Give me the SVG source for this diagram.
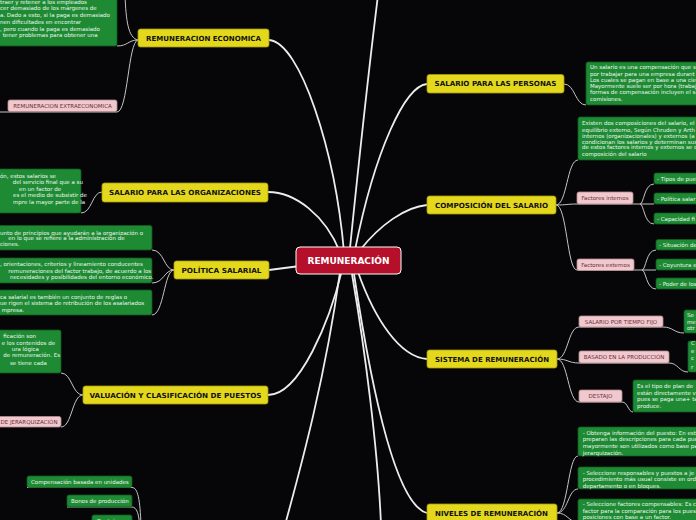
<svg xmlns="http://www.w3.org/2000/svg" width="696" height="520" viewBox="0 0 696 520">
<style>
.y{fill:#e4d81c;stroke:#a59b0e;stroke-width:0.8}
.yt{font-family:'DejaVu Sans',sans-serif;font-weight:bold;font-size:7px;fill:#111;text-anchor:middle}
.g{fill:#1e8a34;stroke:#0f5c1e;stroke-width:0.8}
.gt{font-family:'DejaVu Sans',sans-serif;font-size:5.5px;fill:#eef7ee}
.p{fill:#efc9cd;stroke:#b88c92;stroke-width:0.8}
.pt{font-family:'DejaVu Sans',sans-serif;font-size:5.5px;fill:#6d2a3a;text-anchor:middle}
.c{fill:none;stroke:#ececec;stroke-width:1.8}
.s{fill:none;stroke:#c4c4c4;stroke-width:1}
</style>
<rect x="0" y="0" width="696" height="520" fill="#060608"/>
<g id="connectors">
<path class="c" d="M269,40 C300,42 335,150 344,252"/>
<path class="c" d="M268,192 C295,192 325,215 340,252"/>
<path class="c" d="M269,270 L300,266"/>
<path class="c" d="M268,395 C300,395 330,320 342,270"/>
<path class="c" d="M340,272 C325,380 300,470 285,525"/>
<path class="c" d="M350,248 C360,150 370,60 378,-5"/>
<path class="c" d="M427,84 C405,86 375,150 355,250"/>
<path class="c" d="M427,205 C405,207 380,225 360,250"/>
<path class="c" d="M427,359 C400,357 375,320 358,272"/>
<path class="c" d="M427,513 C395,505 370,380 354,274"/>
<path class="c" d="M352,274 C365,350 378,450 381,525"/>
<path class="s" d="M138,40 C128,40 128,46 117,46"/>
<path class="s" d="M138,40 C128,38 126,20 125,-5"/>
<path class="s" d="M138,40 C128,42 128,112 117,112 L-5,112"/>
<path class="s" d="M102,192 C92,192 92,213 81,213"/>
<path class="s" d="M174,270 C164,270 164,250 152,250"/>
<path class="s" d="M174,270 C164,270 164,283 152,283"/>
<path class="s" d="M174,270 C164,270 164,315 152,315"/>
<path class="s" d="M83,395 C72,395 72,373 61,373"/>
<path class="s" d="M83,395 C72,395 72,427 61,427"/>
<path class="s" d="M27,487.5 L132,487.5 C138,487.5 140,500 141,525"/>
<path class="s" d="M67,507 L132,507 C137,507 139,515 139.5,525"/>
<path class="s" d="M564,84 C575,84 575,105 586,105"/>
<path class="s" d="M556,205 C567,205 567,160 578,160"/>
<path class="s" d="M556,205 C567,205 567,204 577,204 L654,204"/>
<path class="s" d="M640,204 C644,204 644,184 654,184"/>
<path class="s" d="M640,204 C644,204 644,224 654,224"/>
<path class="s" d="M556,205 C567,205 567,270 577,270 L656,270"/>
<path class="s" d="M642,270 C646,270 646,250 656,250"/>
<path class="s" d="M642,270 C646,270 646,289 656,289"/>
<path class="s" d="M557,359 C568,359 568,327 579,327 L663,327 C673,327 674,333 684,333"/>
<path class="s" d="M557,359 C568,359 568,363 579,363 L669,363 C678,363 679,372 688,372"/>
<path class="s" d="M557,359 C568,359 568,402 579,402 L622,402 C628,402 628,412 633,412"/>
<path class="s" d="M557,513 C568,513 568,456 578,456"/>
<path class="s" d="M557,513 C568,513 568,489 578,489"/>
<path class="s" d="M557,513 C568,513 568,522 578,522"/>
</g>
<g id="center"><rect x="296" y="247" width="105" height="27" rx="4" fill="#b50f2b" stroke="#ffffff" stroke-width="1"/><text x="348.5" y="264" font-family="'DejaVu Sans',sans-serif" font-weight="bold" font-size="9.5" fill="#fff" text-anchor="middle" textLength="82" lengthAdjust="spacingAndGlyphs">REMUNERACIÓN</text></g>
<g id="n-econ"><rect class="y" x="138" y="29" width="131" height="18" rx="2.5"/><text class="yt" x="203.5" y="40.5" textLength="115" lengthAdjust="spacingAndGlyphs">REMUNERACION ECONOMICA</text></g>
<g id="n-econ-txt"><rect class="g" x="-10" y="-5" width="127" height="51" rx="2"/>
<text class="gt"><tspan x="0" y="3.5">traer y retener a los empleados</tspan><tspan x="0" y="10">cer demasiado de los márgenes de</tspan><tspan x="0" y="17">a. Dado a esto, si la paga es demasiado</tspan><tspan x="0" y="24">nen dificultades en encontrar</tspan><tspan x="0" y="30.5">, pero cuando la paga es demasiado</tspan><tspan x="2.7" y="36.5">tener problemas para obtener una</tspan></text></g>
<g id="n-extra"><rect class="p" x="8" y="100" width="109" height="11.5" rx="2"/><text class="pt" x="62.5" y="108">REMUNERACION EXTRAECONOMICA</text></g>
<g id="n-org"><rect class="y" x="102" y="183" width="166" height="19" rx="2.5"/><text class="yt" x="185" y="194.5" textLength="152" lengthAdjust="spacingAndGlyphs">SALARIO PARA LAS ORGANIZACIONES</text></g>
<g id="n-org-txt"><rect class="g" x="-10" y="169" width="91" height="44" rx="2"/>
<text class="gt"><tspan x="0" y="177.5">ón, estos salarios se</tspan><tspan x="12.7" y="184.3">del servicio final que a su</tspan><tspan x="19" y="190.8">en un factor de</tspan><tspan x="13" y="197">es el medio de subsistir de</tspan><tspan x="13" y="203.8">mpre la mayor parte de la</tspan></text></g>
<g id="n-pol"><rect class="y" x="174" y="261" width="95" height="18" rx="2.5"/><text class="yt" x="221.5" y="272.5" textLength="80" lengthAdjust="spacingAndGlyphs">POLÍTICA SALARIAL</text></g>
<g id="n-pol-a"><rect class="g" x="-10" y="225.5" width="162" height="24.5" rx="2"/>
<text class="gt"><tspan x="0" y="234.5">unto de principios que ayudarán a la organización o</tspan><tspan x="8.3" y="240.3">en lo que se refiere a la administración de</tspan><tspan x="0" y="246.3">ciones.</tspan></text></g>
<g id="n-pol-b"><rect class="g" x="-10" y="258" width="162" height="25" rx="2"/>
<text class="gt"><tspan x="0" y="266">, orientaciones, criterios y lineamiento conducentes</tspan><tspan x="8.3" y="273">remuneraciones del factor trabajo, de acuerdo a los</tspan><tspan x="10" y="279">necesidades y posibilidades del entorno económico.</tspan></text></g>
<g id="n-pol-c"><rect class="g" x="-10" y="290" width="162" height="25" rx="2"/>
<text class="gt"><tspan x="0" y="298.5">ca salarial es también un conjunto de reglas o</tspan><tspan x="0" y="305">ue rigen el sistema de retribución de los asalariados</tspan><tspan x="1.7" y="311.5">mpresa.</tspan></text></g>
<g id="n-val"><rect class="y" x="83" y="386" width="185" height="18" rx="2.5"/><text class="yt" x="175.5" y="397.5" textLength="172" lengthAdjust="spacingAndGlyphs">VALUACIÓN Y CLASIFICACIÓN DE PUESTOS</text></g>
<g id="n-val-txt"><rect class="g" x="-10" y="330" width="71" height="43" rx="2"/>
<text class="gt"><tspan x="3.3" y="338">ficación son</tspan><tspan x="1.7" y="344.5">e los contenidos de</tspan><tspan x="11.7" y="351">ura lógica</tspan><tspan x="3.3" y="357">de remuneración. Es</tspan><tspan x="10" y="364.5">se tiene cada</tspan></text></g>
<g id="n-jer"><rect class="p" x="-10" y="416.5" width="71" height="10.5" rx="2"/><text class="pt" x="57.5" y="424" style="text-anchor:end">DE JERARQUIZACIÓN</text></g>
<g id="n-unid"><rect class="g" x="27" y="476" width="105" height="11.5" rx="2"/><text class="gt" x="31" y="484">Compensación basada en unidades</text></g>
<g id="n-bonos"><rect class="g" x="67" y="495" width="65" height="12" rx="2"/><text class="gt" x="71" y="503">Bonos de producción</text></g>
<g id="n-dest2"><rect class="g" x="92" y="515" width="40" height="15" rx="2"/><text class="gt" x="97" y="523">Destajo</text></g>
<g id="n-pers"><rect class="y" x="427" y="74.5" width="137" height="18.5" rx="2.5"/><text class="yt" x="495.5" y="86.3" textLength="122" lengthAdjust="spacingAndGlyphs">SALARIO PARA LAS PERSONAS</text></g>
<g id="n-pers-txt"><rect class="g" x="586" y="62" width="120" height="43" rx="2"/>
<text class="gt"><tspan x="590" y="69.3">Un salario es una compensación que s</tspan><tspan x="590" y="76">por trabajar para una empresa durant</tspan><tspan x="590" y="82">Los cuales se pagan en base a una cie</tspan><tspan x="590" y="88">Mayormente suele ser por hora (trabaj</tspan><tspan x="590" y="94.3">formas de compensación incluyen el sa</tspan><tspan x="590" y="101.3">comisiones.</tspan></text></g>
<g id="n-comp"><rect class="y" x="427" y="196" width="129" height="18" rx="2.5"/><text class="yt" x="491.5" y="207.5" textLength="113" lengthAdjust="spacingAndGlyphs">COMPOSICIÓN DEL SALARIO</text></g>
<g id="n-comp-txt"><rect class="g" x="578" y="117" width="128" height="43" rx="2"/>
<text class="gt"><tspan x="582" y="124.5">Existen dos composiciones del salario, el</tspan><tspan x="582" y="131.5">equilibrio externo, Según Chruden y Arth</tspan><tspan x="582" y="137.5">internos (organizacionales) y externos (a</tspan><tspan x="582" y="143.5">condicionan los salarios y determinan sus</tspan><tspan x="582" y="149">de estos factores internos y externos se c</tspan><tspan x="582" y="155.8">composición del salario</tspan></text></g>
<g id="n-fint"><rect class="p" x="577" y="192" width="56" height="12" rx="2"/><text class="pt" x="605" y="200">Factores internos</text></g>
<g id="n-fint-1"><rect class="g" x="654" y="173" width="52" height="11" rx="2"/><text class="gt" x="657" y="180.5">- Tipos de pue</text></g>
<g id="n-fint-2"><rect class="g" x="654" y="193" width="52" height="11" rx="2"/><text class="gt" x="657" y="200.5">- Política salar</text></g>
<g id="n-fint-3"><rect class="g" x="654" y="213" width="52" height="11" rx="2"/><text class="gt" x="657" y="220.5">- Capacidad fi</text></g>
<g id="n-fext"><rect class="p" x="577" y="259" width="57" height="11.5" rx="2"/><text class="pt" x="605.5" y="266.8">Factores externos</text></g>
<g id="n-fext-1"><rect class="g" x="656" y="239.5" width="50" height="10.5" rx="2"/><text class="gt" x="659" y="247">- Situación de</text></g>
<g id="n-fext-2"><rect class="g" x="656" y="259" width="50" height="11" rx="2"/><text class="gt" x="659" y="266.5">- Coyuntura e</text></g>
<g id="n-fext-3"><rect class="g" x="656" y="278" width="50" height="11" rx="2"/><text class="gt" x="659" y="285.5">- Poder de los</text></g>
<g id="n-sis"><rect class="y" x="427" y="350" width="130" height="18" rx="2.5"/><text class="yt" x="492" y="361.5" textLength="114" lengthAdjust="spacingAndGlyphs">SISTEMA DE REMUNERACIÓN</text></g>
<g id="n-fijo"><rect class="p" x="579" y="316" width="84" height="11" rx="2"/><text class="pt" x="621" y="323.8">SALARIO POR TIEMPO FIJO</text></g>
<g id="n-fijo-txt"><rect class="g" x="684" y="310" width="22" height="23" rx="2"/><text class="gt"><tspan x="687" y="317">Se</tspan><tspan x="687" y="323.5">me</tspan><tspan x="687" y="330">otr</tspan></text></g>
<g id="n-prod"><rect class="p" x="579" y="351" width="90" height="12" rx="2"/><text class="pt" x="624" y="359.2">BASADO EN LA PRODUCCIÓN</text></g>
<g id="n-prod-txt"><rect class="g" x="688" y="341" width="18" height="31" rx="2"/><text class="gt"><tspan x="691" y="345.3">C</tspan><tspan x="691" y="353">e</tspan><tspan x="691" y="360">c</tspan><tspan x="691" y="368.5">r</tspan></text></g>
<g id="n-destajo"><rect class="p" x="579" y="390" width="43" height="12" rx="2"/><text class="pt" x="600.5" y="398.2">DESTAJO</text></g>
<g id="n-destajo-txt"><rect class="g" x="633" y="380" width="73" height="32" rx="2"/><text class="gt"><tspan x="637" y="388">Es el tipo de plan de</tspan><tspan x="637" y="395">están directamente v</tspan><tspan x="637" y="401">pues se paga una+ ta</tspan><tspan x="637" y="408">produce.</tspan></text></g>
<g id="n-niv"><rect class="y" x="427" y="504" width="130" height="20" rx="2.5"/><text class="yt" x="491.5" y="516" textLength="113" lengthAdjust="spacingAndGlyphs">NIVELES DE REMUNERACIÓN</text></g>
<g id="n-niv-1"><rect class="g" x="578" y="427" width="128" height="29" rx="2"/><text class="gt"><tspan x="582.7" y="435">- Obtenga información del puesto: En est</tspan><tspan x="582.7" y="441.3">preparan las descripciones para cada pue</tspan><tspan x="582.7" y="448">mayormente son utilizados como base pa</tspan><tspan x="582.7" y="454.5">jerarquización.</tspan></text></g>
<g id="n-niv-2"><rect class="g" x="578" y="467" width="128" height="22" rx="2"/><text class="gt"><tspan x="582.7" y="474.5">- Seleccione responsables y puestos a je</tspan><tspan x="582.7" y="481">procedimiento más usual consiste en ord</tspan><tspan x="582.7" y="487.5">departamento o en bloques.</tspan></text></g>
<g id="n-niv-3"><rect class="g" x="578" y="499" width="128" height="26" rx="2"/><text class="gt"><tspan x="582.7" y="506">- Seleccione factores compensables: Es c</tspan><tspan x="582.7" y="512.5">factor para la comparación para los pues</tspan><tspan x="582.7" y="519">posiciones con base a un factor.</tspan></text></g>
</svg>
